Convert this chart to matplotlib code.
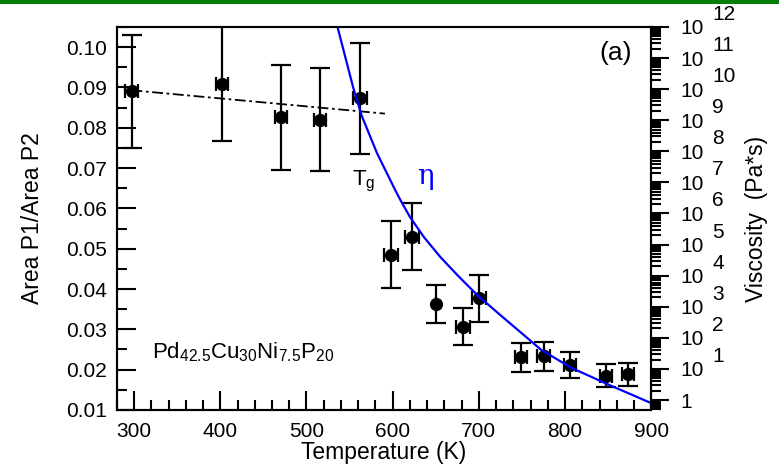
import numpy as np
import matplotlib
matplotlib.use('Agg')
import matplotlib.pyplot as plt
from matplotlib.ticker import MultipleLocator, LogLocator, FuncFormatter, NullFormatter
from matplotlib.patches import Rectangle

plt.rcParams['font.family'] = ['Liberation Sans', 'DejaVu Sans']
plt.rcParams['mathtext.fontset'] = 'custom'
plt.rcParams['mathtext.rm'] = 'Liberation Sans'
plt.rcParams['mathtext.default'] = 'regular'

# Area ratio data
temp = [297, 402, 470, 516, 562, 598, 622, 650, 682, 700, 749, 775, 806, 848, 873]
ratio = [0.0890, 0.0909, 0.0826, 0.0820, 0.0873, 0.0485, 0.0530, 0.0363, 0.0307, 0.0377,
         0.0231, 0.0233, 0.0212, 0.0185, 0.0188]
ratio_err = [0.0140, 0.0143, 0.0130, 0.0128, 0.0137, 0.0083, 0.0083, 0.0048, 0.0047, 0.0058,
             0.0036, 0.0036, 0.0032, 0.0028, 0.0028]
temp_err = [8, 7, 7, 7, 8, 8, 8, 0, 8, 8, 7, 7, 7, 7, 7]

# dash-dot trend line below Tg
trend_T = [297, 591]
trend_y = [0.0893, 0.0835]

# viscosity curve (log10 of Pa*s)
eta_T = [530, 536, 554, 564, 582, 603, 609, 620, 628, 636, 655, 675, 698, 725, 756, 772,
         807, 850, 900]
eta_log = [12.6, 12.0, 10.07, 9.15, 7.93, 6.75, 6.43, 5.89, 5.57, 5.25, 4.61, 4.02, 3.38,
           2.73, 2.0, 1.62, 1.04, 0.50, -0.1]

fig = plt.figure(figsize=(7.79, 4.70), dpi=100)
fig.add_artist(Rectangle((0, 1 - 4 / 470), 1, 4 / 470, transform=fig.transFigure,
                         color='#077f07', lw=0))

ax = fig.add_axes([0.150, 0.1277, 0.686, 0.815])
ax.set_xlim(280, 900)
ax.set_ylim(0.01, 0.105)

ax.plot(trend_T, trend_y, color='k', lw=1.3, ls=(0, (6, 2, 1.5, 2)))
ax.errorbar(temp, ratio, yerr=ratio_err, fmt='o', color='k', ms=8.5,
            elinewidth=1.6, capsize=7.5, capthick=1.6, zorder=3)
ax.errorbar(temp, ratio, xerr=temp_err, fmt='none', ecolor='k',
            elinewidth=1.6, capsize=5, capthick=1.6, zorder=3)

ax.xaxis.set_major_locator(MultipleLocator(100))
ax.xaxis.set_minor_locator(MultipleLocator(20))
ax.yaxis.set_major_locator(MultipleLocator(0.01))
ax.yaxis.set_minor_locator(MultipleLocator(0.005))
ax.yaxis.set_major_formatter(FuncFormatter(lambda v, p: f'{v:.2f}'))
ax.tick_params(which='both', direction='in', top=False, right=False, width=1.5,
               labelsize=15)
ax.tick_params(which='major', length=14)
ax.tick_params(which='minor', length=7)
ax.tick_params(axis='x', pad=9)
ax.tick_params(axis='y', pad=7)
for s in ax.spines.values():
    s.set_linewidth(1.5)

ax.set_xlabel('Temperature (K)', fontsize=16.5)
ax.xaxis.set_label_coords(0.5, -0.081)
ax.set_ylabel('Area P1/Area P2', fontsize=16.5)
ax.yaxis.set_label_coords(-0.137, 0.5)

ax.text(566, 0.0657, r'T$_g$', fontsize=16, ha='center', va='baseline')
ax.text(638, 0.0680, 'η', fontsize=20, color='#0000ff', ha='center', va='center',
        family='DejaVu Serif')
ax.text(321, 0.0228, r'Pd$_{42.5}$Cu$_{30}$Ni$_{7.5}$P$_{20}$', fontsize=16)
ax.text(0.933, 0.932, '(a)', transform=ax.transAxes, fontsize=19, ha='center', va='center')

ax2 = ax.twinx()
ax2.set_yscale('log')
ax2.set_ylim(10 ** -0.32, 1e12)
ax2.plot(eta_T, [10 ** v for v in eta_log], color='#0000ff', lw=1.6)
ax2.yaxis.set_major_locator(LogLocator(base=10, numticks=30))
ax2.yaxis.set_minor_locator(LogLocator(base=10, subs=np.arange(2, 10), numticks=100))
ax2.yaxis.set_minor_formatter(NullFormatter())
ax2.yaxis.set_major_formatter(FuncFormatter(
    lambda v, p: '1' if abs(v - 1) < 1e-9 else '10'))
ax2.tick_params(which='both', direction='out', width=1.5, labelsize=15)
ax2.tick_params(which='major', length=13, pad=8)
ax2.tick_params(which='minor', length=7)
# exponents of the right-hand tick labels, written large like the reference
for n in range(1, 13):
    ax2.annotate(str(n), xy=(1, 10.0 ** n), xycoords=('axes fraction', 'data'),
                 xytext=(44, 9), textcoords='offset points', ha='left', va='center',
                 fontsize=15, annotation_clip=False)
ax2.set_ylabel('Viscosity  (Pa*s)', fontsize=16.5)
ax2.yaxis.set_label_coords(1.176, 0.5)
for s in ax2.spines.values():
    s.set_linewidth(1.5)

plt.savefig('out.png', dpi=100)
